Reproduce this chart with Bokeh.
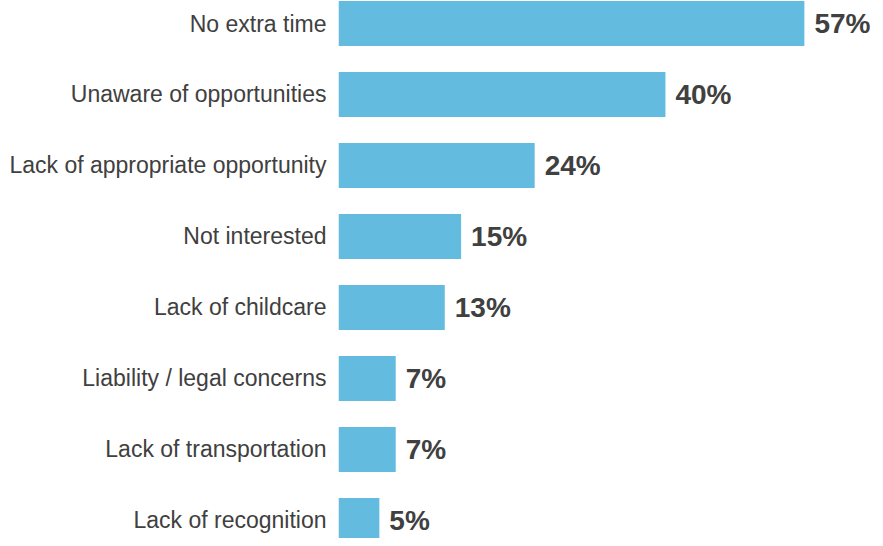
from bokeh.plotting import figure
from bokeh.models import Range1d, FixedTicker, ColumnDataSource
from bokeh.core.properties import value
from bokeh.embed import file_html
from bokeh.resources import INLINE

categories = ["No extra time", "Unaware of opportunities", "Lack of appropriate opportunity",
              "Not interested", "Lack of childcare", "Liability / legal concerns",
              "Lack of transportation", "Lack of recognition"]
values = [57, 40, 24, 15, 13, 7, 7, 5]
labels = [f"{v}%" for v in values]

idx = list(range(len(categories)))
src = ColumnDataSource(dict(y=idx, v=values, lab=labels))

p = figure(width=875, height=538, output_backend="svg", toolbar_location=None,
           x_range=Range1d(0, 65.7), y_range=Range1d(7.254, -0.324),
           min_border_left=338, min_border_right=0, min_border_top=0, min_border_bottom=0,
           x_axis_location=None)
p.outline_line_color = None
p.xgrid.visible = False
p.ygrid.visible = False

p.hbar(y="y", left=0, right="v", height=0.635, source=src, color="#63BBE0", line_color=None)
p.text(x="v", y="y", text="lab", source=src, x_offset=10, text_baseline="middle",
       text_align="left", text_font=value("Liberation Sans"), text_font_style="bold",
       text_font_size="28px", text_color="#404040")

ax = p.yaxis[0]
ax.ticker = FixedTicker(ticks=idx)
ax.major_label_overrides = {i: c for i, c in zip(idx, categories)}
ax.axis_line_color = None
ax.major_tick_line_color = None
ax.minor_tick_line_color = None
ax.major_tick_out = 0
ax.major_tick_in = 0
ax.major_label_standoff = 12
ax.major_label_text_font = "Liberation Sans"
ax.major_label_text_font_size = "23px"
ax.major_label_text_color = "#404040"

open("out.html", "w").write(file_html(p, INLINE))
